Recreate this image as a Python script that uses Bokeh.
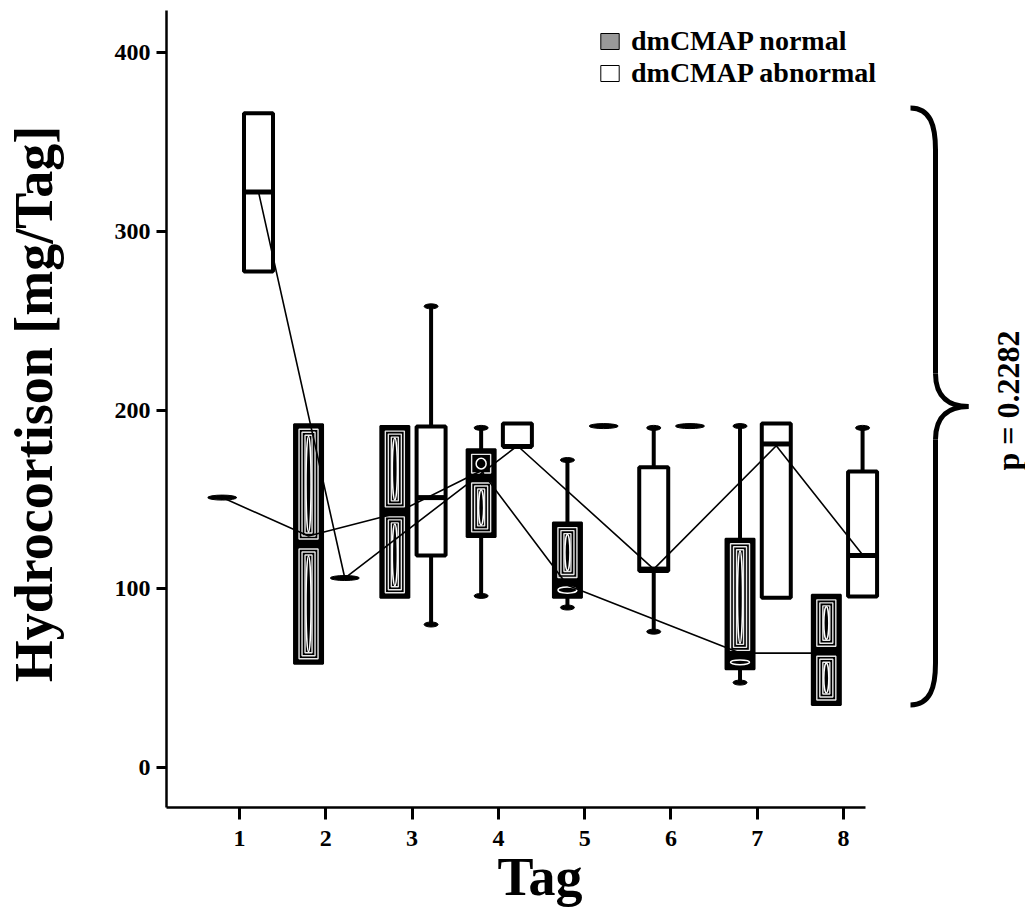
import math
from bokeh.plotting import figure
from bokeh.models import Range1d, Label, Legend, LegendItem, ColumnDataSource, FixedTicker, Title
from bokeh.embed import file_html
from bokeh.resources import INLINE

# ---------------- data ----------------
days = [1, 2, 3, 4, 5, 6, 7, 8]
day_labels = ["1", "2", "3", "4", "5", "6", "7", "8"]
y_ticks = [0, 100, 200, 300, 400]

normal_q1     = [151, 58, 95, 129, 95, 191, 55, 35]
normal_median = [151, 125, 143, 162, 103.5, 191, 62.7, 65]
normal_q3     = [151, 192, 191, 178, 137, 191, 128, 96.6]
normal_low    = [151, 58, 95, 96, 89.5, 191, 47.5, 35]
normal_high   = [151, 192, 191, 190, 172, 191, 191, 96.6]

abnormal_q1     = [277.5, 106, 118.6, 179.6, 191, 110, 95, 95.7]
abnormal_median = [322, 106, 151, 179.6, 191, 111, 181, 118.6]
abnormal_q3     = [366, 106, 190.8, 192.4, 191, 168, 192.4, 165.6]
abnormal_low    = [277.5, 106, 80, 179.6, 191, 76, 95, 95.7]
abnormal_high   = [366, 106, 258, 192.4, 191, 190, 192.4, 190]

swapped_days = [6]   # days where the two groups trade sides

normal_mean_days = [1, 2, 3, 4, 5, 7, 8]
normal_mean = [151, 129.5, 142, 166, 102, 64, 64]
abnormal_mean_days = [1, 2, 4, 6, 7, 8]
abnormal_mean = [322, 106, 180, 111, 180, 119]

brace_span = [35, 369]
p_value_text = "p = 0.2282"
legend_labels = ["dmCMAP normal", "dmCMAP abnormal"]
x_title = "Tag"
y_title = "Hydrocortison [mg/Tag]"

# ---------------- layout ----------------
W, H = 1025, 909
BL, BB = 166, 102
FW, FH = W - BL, H - BB
X0, X1 = 0.154, 10.108
Y0, Y1 = -22.38, 429.1
XS = FW / (X1 - X0)
YS = FH / (Y1 - Y0)

def px2x(px):
    return X0 + (px - BL) / XS

def py2y(py):
    return Y1 - py / YS

FONT = "Liberation Serif"
BOXW = 29 / XS
OFF = {"normal": -0.2, "abnormal": 0.22}

p = figure(width=W, height=H, x_range=Range1d(X0, X1), y_range=Range1d(Y0, Y1),
           output_backend="svg", toolbar_location=None,
           min_border_left=BL, min_border_right=0, min_border_top=0, min_border_bottom=BB)
p.outline_line_color = None
p.xgrid.grid_line_color = None
p.ygrid.grid_line_color = None
p.background_fill_color = "white"

# axes
xa = p.xaxis[0]
xa.ticker = FixedTicker(ticks=days)
xa.major_label_overrides = {d: l for d, l in zip(days, day_labels)}
xa.bounds = (X0, px2x(865))
xa.axis_line_width = 2.5
xa.major_tick_line_width = 3
xa.major_tick_out = 12
xa.major_tick_in = 0
xa.minor_tick_line_color = None
xa.major_label_standoff = 11
xa.major_label_text_font = FONT
xa.major_label_text_font_style = "bold"
xa.major_label_text_font_size = "24px"
xa.major_label_text_color = "black"

ya = p.yaxis[0]
ya.ticker = FixedTicker(ticks=y_ticks)
ya.bounds = (Y0, py2y(10))
ya.axis_line_width = 2.5
ya.major_tick_line_width = 3
ya.major_tick_out = 10
ya.major_tick_in = 0
ya.minor_tick_line_color = None
ya.major_label_standoff = 6
ya.major_label_text_font = FONT
ya.major_label_text_font_style = "bold"
ya.major_label_text_font_size = "24px"
ya.major_label_text_color = "black"
ya.axis_label = y_title
ya.axis_label_text_font = FONT
ya.axis_label_text_font_style = "bold"
ya.axis_label_text_font_size = "54px"
ya.axis_label_text_color = "black"
ya.axis_label_standoff = 48

# x-axis title as a bottom title, placed under the day ticks
p.add_layout(Title(text=x_title, align="left", offset=497 - BL, standoff=-8,
                   text_font=FONT, text_font_style="bold", text_font_size="54px",
                   text_color="black"), "below")

# ---------------- boxes ----------------
whisk = dict(x0=[], y0=[], x1=[], y1=[])
caps = dict(x=[], y=[])
dashes = dict(x=[], y=[])
white_boxes = dict(left=[], right=[], bottom=[], top=[])
black_boxes = dict(left=[], right=[], bottom=[], top=[])
medians = dict(x0=[], y0=[], x1=[], y1=[])
pat_rects = dict(left=[], right=[], bottom=[], top=[])
pat_ell = dict(x=[], y=[], w=[], h=[])

def side_of(group, day):
    g = group
    if day in swapped_days:
        g = "abnormal" if group == "normal" else "normal"
    return OFF[g]

def add_pattern(cx, a, b):
    hpx = (b - a) * YS
    half = BOXW / 2
    if hpx >= 40:
        for k in (5, 8, 11):
            if hpx > 2 * k + 6:
                pat_rects["left"].append(cx - half + k / XS)
                pat_rects["right"].append(cx + half - k / XS)
                pat_rects["bottom"].append(a + k / YS)
                pat_rects["top"].append(b - k / YS)
        ew, eh = 5, hpx - 24
    elif hpx >= 20:
        k = 5
        pat_rects["left"].append(cx - half + k / XS)
        pat_rects["right"].append(cx + half - k / XS)
        pat_rects["bottom"].append(a + k / YS)
        pat_rects["top"].append(b - k / YS)
        ew, eh = 10, max(hpx - 18, 5)
    else:
        ew, eh = 19, max(hpx - 9, 4)
    pat_ell["x"].append(cx)
    pat_ell["y"].append((a + b) / 2)
    pat_ell["w"].append(ew)
    pat_ell["h"].append(eh)

def add_box(group, day, q1, med, q3, lo, hi):
    cx = day + side_of(group, day)
    half = BOXW / 2
    if q1 == q3:
        dashes["x"].append(cx)
        dashes["y"].append(med)
        return
    if hi > q3:
        whisk["x0"].append(cx); whisk["y0"].append(q3); whisk["x1"].append(cx); whisk["y1"].append(hi)
        caps["x"].append(cx); caps["y"].append(hi)
    if lo < q1:
        whisk["x0"].append(cx); whisk["y0"].append(q1); whisk["x1"].append(cx); whisk["y1"].append(lo)
        caps["x"].append(cx); caps["y"].append(lo)
    patterned = (group == "normal") and (day not in swapped_days)
    tgt = black_boxes if patterned else white_boxes
    tgt["left"].append(cx - half); tgt["right"].append(cx + half)
    tgt["bottom"].append(q1); tgt["top"].append(q3)
    if patterned:
        add_pattern(cx, q1, med)
        add_pattern(cx, med, q3)
    else:
        medians["x0"].append(cx - half); medians["x1"].append(cx + half)
        medians["y0"].append(med); medians["y1"].append(med)

for i, d in enumerate(days):
    add_box("normal", d, normal_q1[i], normal_median[i], normal_q3[i], normal_low[i], normal_high[i])
    add_box("abnormal", d, abnormal_q1[i], abnormal_median[i], abnormal_q3[i], abnormal_low[i], abnormal_high[i])

p.segment(x0="x0", y0="y0", x1="x1", y1="y1", source=ColumnDataSource(whisk),
          line_color="black", line_width=4)
p.ellipse(x="x", y="y", width=14, height=5, width_units="screen", height_units="screen",
          source=ColumnDataSource(caps), fill_color="black", line_color="black")
p.quad(left="left", right="right", bottom="bottom", top="top", source=ColumnDataSource(white_boxes),
       fill_color="white", line_color="black", line_width=4)
p.quad(left="left", right="right", bottom="bottom", top="top", source=ColumnDataSource(black_boxes),
       fill_color="black", line_color="black", line_width=2)
p.quad(left="left", right="right", bottom="bottom", top="top", source=ColumnDataSource(pat_rects),
       fill_color=None, line_color="#e8e8e8", line_width=1.4)
p.ellipse(x="x", y="y", width="w", height="h", width_units="screen", height_units="screen",
          source=ColumnDataSource(pat_ell), fill_color=None, line_color="white", line_width=1.5)
p.segment(x0="x0", y0="y0", x1="x1", y1="y1", source=ColumnDataSource(medians),
          line_color="black", line_width=5)
p.ellipse(x="x", y="y", width=BOXW, height=5, height_units="screen",
          source=ColumnDataSource(dashes), fill_color="black", line_color="black")

# mean lines
p.line(x=[d + side_of("normal", d) for d in normal_mean_days], y=normal_mean,
       line_color="black", line_width=1.6)
p.line(x=[d + side_of("abnormal", d) for d in abnormal_mean_days], y=abnormal_mean,
       line_color="black", line_width=1.6)

# ---------------- brace ----------------
top_py = (Y1 - brace_span[1]) * YS
bot_py = (Y1 - brace_span[0]) * YS
mid_py = (top_py + bot_py) / 2
ex, ax_, tx = 910, 935, 968
bz = dict(x0=[], y0=[], x1=[], y1=[], cx0=[], cy0=[], cx1=[], cy1=[])
def add_bz(p0, p1, c0, c1):
    bz["x0"].append(px2x(p0[0])); bz["y0"].append(py2y(p0[1]))
    bz["x1"].append(px2x(p1[0])); bz["y1"].append(py2y(p1[1]))
    bz["cx0"].append(px2x(c0[0])); bz["cy0"].append(py2y(c0[1]))
    bz["cx1"].append(px2x(c1[0])); bz["cy1"].append(py2y(c1[1]))
add_bz((ex, top_py), (ax_, top_py + 42), (ax_ - 5, top_py), (ax_, top_py + 18))
add_bz((ax_, mid_py - 33), (tx, mid_py), (ax_, mid_py - 8), (tx - 18, mid_py))
add_bz((tx, mid_py), (ax_, mid_py + 33), (tx - 18, mid_py), (ax_, mid_py + 8))
add_bz((ax_, bot_py - 42), (ex, bot_py), (ax_, bot_py - 18), (ax_ - 5, bot_py))
p.bezier(x0="x0", y0="y0", x1="x1", y1="y1", cx0="cx0", cy0="cy0", cx1="cx1", cy1="cy1",
         source=ColumnDataSource(bz), line_color="black", line_width=5)
p.segment(x0=[px2x(ax_), px2x(ax_)], y0=[py2y(top_py + 42), py2y(mid_py + 33)],
          x1=[px2x(ax_), px2x(ax_)], y1=[py2y(mid_py - 33), py2y(bot_py - 42)],
          line_color="black", line_width=5)

p.add_layout(Label(x=px2x(1007), y=py2y(mid_py - 6), text=p_value_text, angle=math.pi / 2,
                   text_align="center", text_baseline="middle", text_font=FONT,
                   text_font_style="bold", text_font_size="32px", text_color="black"))

# ---------------- legend (one box per entry for exact row spacing) ----------------
nan = float("nan")
legend_fills = ["#999999", "white"]
legend_y = [750, 718]
for lab, fc, ly in zip(legend_labels, legend_fills, legend_y):
    src = ColumnDataSource(dict(left=[nan], right=[nan], bottom=[nan], top=[nan]))
    r = p.quad(left="left", right="right", bottom="bottom", top="top", source=src,
               fill_color=fc, line_color="black", line_width=1)
    lg = Legend(items=[LegendItem(label=lab, renderers=[r], index=0)],
                location=(432, ly), orientation="vertical",
                label_text_font=FONT, label_text_font_style="bold",
                label_text_font_size="28px", label_text_color="black",
                glyph_width=23, glyph_height=20, label_standoff=10,
                spacing=0, padding=0, margin=0,
                border_line_color=None, background_fill_alpha=0)
    p.add_layout(lg)

open("out.html", "w").write(file_html(p, INLINE))
